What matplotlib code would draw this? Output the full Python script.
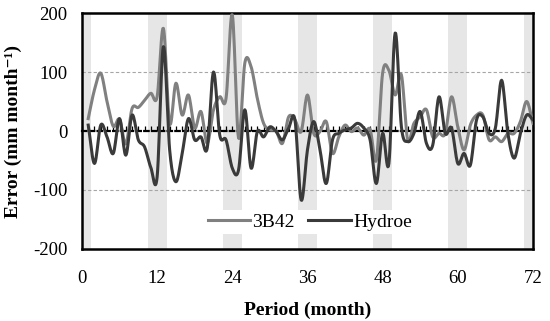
import numpy as np
import matplotlib
matplotlib.use('Agg')
import matplotlib.pyplot as plt

# monthly error values (months 1..72)
months = np.arange(1, 73)
err_3b42 = [21, 70, 98, 50, 8, 20, -22, 38, 40, 52, 64, 58,
            174, 13, 81, 27, 61, 5, 33, -21, 36, 58, 55, 197,
            -12, 115, 109, 55, 13, 2, 0, -21, 24, 19, -1, 61,
            -4, -1, 16, -38, -10, 10, -1, 5, -7, 3, -49, 98,
            103, 61, 95, -15, 13, 24, 36, -10, -4, -4, 58, 7,
            -32, 10, 27, 27, -15, -10, -18, -4, -4, 16, 50, 13]
err_hydroe = [10, -55, 10, -10, -38, 21, -41, 27, -15, -27, -62, -78,
              143, -32, -86, -38, 21, -15, -10, -29, 100, -7, -15, -63,
              -66, 36, -63, -1, -10, 7, -1, -15, 5, 19, -117, -32,
              16, -32, -89, -15, -4, 2, 5, 13, 5, -15, -89, -4,
              -55, 166, 7, -18, -4, 33, -21, -24, 58, -4, 5, -55,
              -38, -58, 19, 24, -4, 5, 86, -4, -46, -4, 27, 19]
band_centers = [0, 12, 24, 36, 48, 60, 72]
band_half = 1.5
xticks = [0, 12, 24, 36, 48, 60, 72]
yticks = [-200, -100, 0, 100, 200]


def smooth(x, y, n=12):
    # Catmull-Rom spline through the points, like Excel's smoothed line
    x = np.asarray(x, float)
    y = np.asarray(y, float)
    px = np.concatenate([[2 * x[0] - x[1]], x, [2 * x[-1] - x[-2]]])
    py = np.concatenate([[2 * y[0] - y[1]], y, [2 * y[-1] - y[-2]]])
    t = np.linspace(0, 1, n, endpoint=False)
    xs, ys = [], []
    for i in range(1, len(px) - 2):
        for p, out in ((px, xs), (py, ys)):
            p0, p1, p2, p3 = p[i - 1], p[i], p[i + 1], p[i + 2]
            out.append(0.5 * (2 * p1 + (-p0 + p2) * t
                              + (2 * p0 - 5 * p1 + 4 * p2 - p3) * t ** 2
                              + (-p0 + 3 * p1 - 3 * p2 + p3) * t ** 3))
    xs.append([x[-1]])
    ys.append([y[-1]])
    return np.concatenate(xs), np.concatenate(ys)


plt.rcParams['font.family'] = ['Liberation Serif', 'DejaVu Serif']
plt.rcParams['axes.unicode_minus'] = False

fig = plt.figure(figsize=(5.5, 3.21), dpi=100)
ax = fig.add_axes([0.149, 0.2243, 0.82, 0.7352])

for c in band_centers:
    ax.axvspan(c - band_half, c + band_half, color='#e6e6e6', lw=0, zorder=0)

for v in yticks:
    if v not in (0, 200, -200):
        ax.axhline(v, color='#a6a6a6', lw=0.8, ls=(0, (3, 2)), zorder=1)

x1, y1 = smooth(months, err_3b42)
x2, y2 = smooth(months, err_hydroe)
ax.plot(x1, y1, color='#808080', lw=2.2, label='3B42', zorder=3)
ax.plot(x2, y2, color='#3a3a3a', lw=2.2, label='Hydroe', zorder=4)

# zero axis with monthly tick marks
zero = ax.secondary_xaxis(0.5)
zero.set_xticks(np.arange(0, 73))
zero.tick_params(axis='x', direction='out', length=3.5, width=0.9,
                 color='black', labeltop=False, labelbottom=False)
zero.spines['top'].set_linestyle((0, (2, 1.5)))
zero.spines['top'].set_linewidth(1.6)
zero.spines['top'].set_color('black')

ax.set_xlim(0, 72)
ax.set_ylim(-200, 200)
ax.set_xticks(xticks)
ax.set_yticks(yticks)
ax.tick_params(length=0, labelsize=13.5)
ax.tick_params(axis='y', pad=10.5)
ax.tick_params(axis='x', pad=15)
for s in ax.spines.values():
    s.set_linewidth(1.8)
    s.set_color('black')

ax.set_xlabel('Period (month)', fontsize=14, fontweight='bold')
ax.set_ylabel('Error (mm month⁻¹)', fontsize=14, fontweight='bold')
ax.xaxis.set_label_coords(0.5, -0.222)
ax.yaxis.set_label_coords(-0.133, 0.5)

leg = ax.legend(loc='center', bbox_to_anchor=(0.505, 0.114), ncol=2,
                fontsize=14, frameon=True, framealpha=1, edgecolor='none',
                facecolor='white', fancybox=False, handlelength=2.2,
                handletextpad=0.1, columnspacing=0.7, borderpad=0.15)
leg.set_zorder(5)

fig.savefig('out.png', dpi=100)
